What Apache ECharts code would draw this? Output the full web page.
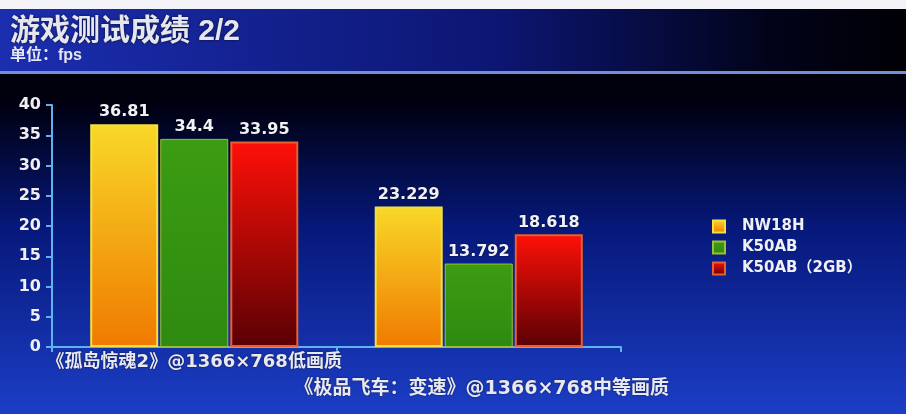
<!DOCTYPE html>
<html><head><meta charset="utf-8">
<script src="https://cdn.jsdelivr.net/npm/echarts@6/dist/echarts.min.js"></script>
<style>html,body{margin:0;padding:0;background:#000;}#c{width:906px;height:414px;}</style>
</head><body><div id="c"></div>
<script>
const categories = ['《孤岛惊魂2》@1366×768低画质', '《极品飞车：变速》@1366×768中等画质'];
const seriesNames = ['NW18H', 'K50AB', 'K50AB（2GB）'];
const nw18h = [36.81, 23.229];
const k50ab = [34.4, 13.792];
const k50ab2gb = [33.95, 18.618];
const yTicks = [0, 5, 10, 15, 20, 25, 30, 35, 40];

const FONT = '"DejaVu Sans", "Noto Sans CJK SC", sans-serif';
const TFONT = '"Liberation Sans", "Noto Sans CJK SC", sans-serif';
const chart = echarts.init(document.getElementById('c'), null, {renderer: 'canvas'});

function grad(top, bottom) {
  return new echarts.graphic.LinearGradient(0, 0, 0, 1, [{offset: 0, color: top}, {offset: 1, color: bottom}]);
}
const labelStyle = {show: true, position: 'top', distance: 4, color: '#f2f2f6', fontSize: 16, fontWeight: 'bold', fontFamily: FONT,
  textShadowColor: 'rgba(0,0,0,0.6)', textShadowBlur: 2};

chart.setOption({
  backgroundColor: new echarts.graphic.LinearGradient(0, 0, 0, 1, [
    {offset: 0, color: '#000004'}, {offset: 0.25, color: '#000010'}, {offset: 0.55, color: '#06187a'}, {offset: 1, color: '#1c3ec6'}
  ]),
  graphic: [
    {type: 'rect', shape: {x: 0, y: 0, width: 906, height: 9}, style: {fill: '#f4f4f8'}, z: -1},
    {type: 'rect', shape: {x: 0, y: 9, width: 906, height: 62},
      style: {fill: new echarts.graphic.LinearGradient(0, 0, 1, 0, [
        {offset: 0, color: '#1b2eb0'}, {offset: 0.55, color: '#0c1672'}, {offset: 0.85, color: '#02031a'}, {offset: 1, color: '#000005'}])}, z: -1},
    {type: 'rect', shape: {x: 0, y: 71, width: 906, height: 3}, style: {fill: '#6f8fd8'}, z: -1}
  ],
  title: {
    text: '游戏测试成绩 2/2', subtext: '单位：fps', left: 5, top: 12, itemGap: 1,
    textStyle: {color: '#e6e6ee', fontSize: 30, fontWeight: 'bold', fontFamily: TFONT, textShadowColor: 'rgba(0,0,0,0.7)', textShadowBlur: 3},
    subtextStyle: {color: '#e6e6ee', fontSize: 16, fontWeight: 'bold', fontFamily: TFONT}
  },
  legend: {
    orient: 'vertical', left: 707, top: 214, itemWidth: 12, itemHeight: 12, itemGap: 6, icon: 'rect',
    data: seriesNames,
    textStyle: {color: '#f0f0f4', fontSize: 15, fontWeight: 'bold', fontFamily: FONT, padding: [0, 0, 0, 12]}
  },
  grid: {left: 52, right: 285, top: 105, bottom: 67},
  xAxis: {
    type: 'category',
    data: [
      {value: categories[0]},
      {value: categories[1], textStyle: {padding: [27, 0, 0, 6], fontSize: 19}}
    ],
    axisLine: {lineStyle: {color: '#5fb2ee', width: 2}},
    axisTick: {show: true, length: 5, lineStyle: {color: '#5fb2ee', width: 2}},
    axisLabel: {color: '#e8e8f0', fontSize: 18, fontWeight: 'bold', fontFamily: FONT, margin: 6, interval: 0,
      textShadowColor: 'rgba(0,0,0,0.6)', textShadowBlur: 2}
  },
  yAxis: {
    type: 'value', min: yTicks[0], max: yTicks[yTicks.length - 1], interval: 5,
    splitLine: {show: false},
    axisLine: {show: true, lineStyle: {color: '#5fb2ee', width: 2}},
    axisTick: {show: true, length: 6, lineStyle: {color: '#5fb2ee', width: 2}},
    axisLabel: {color: '#f0f0f4', fontSize: 16, fontWeight: 'bold', fontFamily: FONT, margin: 11}
  },
  series: [
    {name: seriesNames[0], type: 'bar', data: nw18h, barWidth: 68, barGap: '3%', barCategoryGap: '26%',
      itemStyle: {color: grad('#f8d828', '#f07a00'), borderColor: '#f4e040', borderWidth: 2}, label: labelStyle},
    {name: seriesNames[1], type: 'bar', data: k50ab, barWidth: 68,
      itemStyle: {color: grad('#3c9c12', '#2e8a10'), borderColor: '#9cc030', borderWidth: 1}, label: labelStyle},
    {name: seriesNames[2], type: 'bar', data: k50ab2gb, barWidth: 68,
      itemStyle: {color: grad('#ff1008', '#5a0004'), borderColor: '#e86030', borderWidth: 2}, label: labelStyle}
  ]
});
</script></body></html>
